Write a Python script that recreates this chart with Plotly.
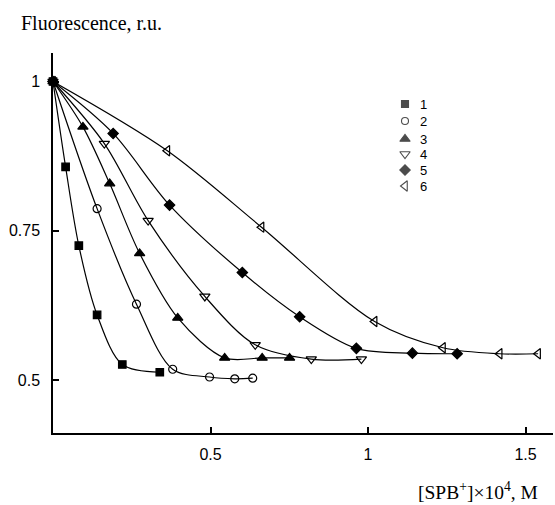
import plotly.graph_objects as go

# ---- data ----
x1 = [0, 0.040, 0.082, 0.140, 0.220, 0.339]
y1 = [1, 0.857, 0.725, 0.609, 0.526, 0.513]
x2 = [0, 0.140, 0.265, 0.380, 0.497, 0.577, 0.634]
y2 = [1, 0.787, 0.627, 0.518, 0.505, 0.502, 0.503]
x3 = [0, 0.095, 0.180, 0.275, 0.396, 0.545, 0.664, 0.751]
y3 = [1, 0.924, 0.829, 0.712, 0.604, 0.537, 0.537, 0.537]
x4 = [0, 0.163, 0.302, 0.482, 0.642, 0.820, 0.979]
y4 = [1, 0.896, 0.767, 0.640, 0.559, 0.535, 0.535]
x5 = [0, 0.191, 0.370, 0.601, 0.783, 0.963, 1.141, 1.283]
y5 = [1, 0.913, 0.793, 0.680, 0.606, 0.553, 0.545, 0.544]
x6 = [0, 0.363, 0.662, 1.021, 1.238, 1.418, 1.540]
y6 = [1, 0.884, 0.756, 0.598, 0.554, 0.544, 0.544]

series_names = ["1", "2", "3", "4", "5", "6"]
x_ticks = [0.5, 1, 1.5]
x_tick_labels = ["0.5", "1", "1.5"]
y_ticks = [0.5, 0.75, 1]
y_tick_labels = ["0.5", "0.75", "1"]

# ---- styling ----
symbols = ["square", "circle-open", "triangle-up", "triangle-down-open", "diamond", "triangle-left-open"]
sizes = [7.5, 8, 9, 9, 8, 9]
xs = [x1, x2, x3, x4, x5, x6]
ys = [y1, y2, y3, y4, y5, y6]

W, H = 555, 505
L, R, T, B = 53, 2, 53, 72
PX_PER_X = 315.0
PX_PER_Y = 597.0
x_max = (W - L - R) / PX_PER_X
y_min = 0.5 - (H - B - 380) / PX_PER_Y
y_max = y_min + (H - T - B) / PX_PER_Y


def px_x(px):
    return (px - L) / (W - L - R)


def px_y(py):
    return (H - B - py) / (H - T - B)


fig = go.Figure()
for xv, yv, sym, sz, nm in zip(xs, ys, symbols, sizes, series_names):
    fig.add_trace(go.Scatter(
        x=xv, y=yv, mode="lines+markers", name=nm,
        line=dict(color="black", width=1.2, shape="spline", smoothing=0.9),
        marker=dict(symbol=sym, size=sz, color="black",
                    line=dict(color="black", width=1.2)),
        showlegend=False, cliponaxis=False,
    ))

# manual legend on a pixel-scaled overlay axis
leg_x = 405
leg_y = [104, 121, 139, 154, 170, 186]
fig.add_trace(go.Scatter(
    x=[leg_x] * 6, y=leg_y, mode="markers", xaxis="x2", yaxis="y2",
    marker=dict(symbol=symbols, size=[7, 7, 9, 9, 8, 9], color="black",
                line=dict(color="black", width=1.1)),
    showlegend=False, hoverinfo="skip", cliponaxis=False,
))
annotations = []
for ly, nm in zip(leg_y, series_names):
    annotations.append(dict(x=px_x(leg_x + 13), y=px_y(ly), xref="paper", yref="paper", text=nm,
                            showarrow=False, xanchor="left", yanchor="middle",
                            font=dict(family="Liberation Sans", size=13, color="black")))
annotations.append(dict(x=px_x(19), y=px_y(23), xref="paper", yref="paper",
                        text="Fluorescence, r.u.",
                        showarrow=False, xanchor="left", yanchor="middle",
                        font=dict(family="Liberation Serif", size=20, color="black")))
annotations.append(dict(x=px_x(540), y=px_y(491), xref="paper", yref="paper",
                        text="[SPB<sup>+</sup>]×10<sup>4</sup>, M",
                        showarrow=False, xanchor="right", yanchor="middle",
                        font=dict(family="Liberation Serif", size=19.5, color="black")))

tickfont = dict(family="Liberation Sans", size=16, color="black")
fig.update_layout(
    width=W, height=H,
    margin=dict(l=L, r=R, t=T, b=B, pad=0),
    paper_bgcolor="white", plot_bgcolor="white",
    showlegend=False,
    xaxis=dict(range=[0, x_max], tickvals=x_ticks, ticktext=x_tick_labels,
               ticks="inside", ticklen=6, tickwidth=1.5, tickcolor="black",
               showline=True, linecolor="black", linewidth=1.5,
               showgrid=False, zeroline=False, tickfont=tickfont,
               ticklabelstandoff=6),
    yaxis=dict(range=[y_min, y_max], tickvals=y_ticks, ticktext=y_tick_labels,
               ticks="inside", ticklen=6, tickwidth=1.5, tickcolor="black",
               showline=True, linecolor="black", linewidth=1.5,
               showgrid=False, zeroline=False, tickfont=tickfont,
               ticklabelstandoff=8),
    xaxis2=dict(range=[L, W - R], overlaying="x", anchor="y2", visible=False,
                fixedrange=True),
    yaxis2=dict(range=[H - B, T], overlaying="y", anchor="x2", visible=False,
                fixedrange=True),
    annotations=annotations,
)

fig.write_html("out.html")
